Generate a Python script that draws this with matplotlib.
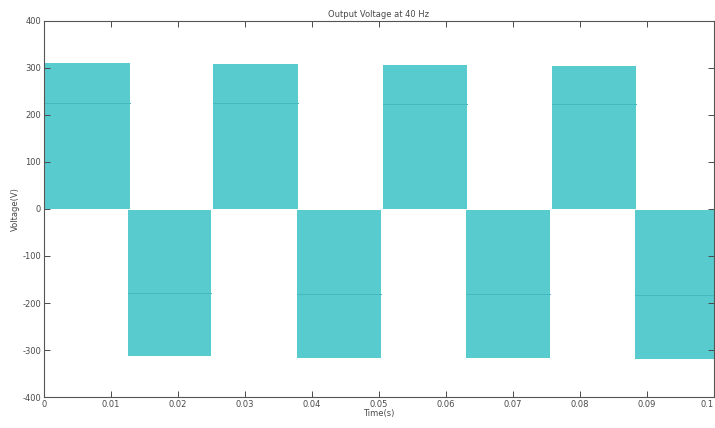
import matplotlib.pyplot as plt
import numpy as np

plt.rcParams['axes.unicode_minus'] = False

# block edges (s) and levels (V)
pos_start = [0.0, 0.0252, 0.0506, 0.0758]
pos_end = [0.0128, 0.0379, 0.0631, 0.0884]
pos_top = [310, 308, 306, 304]
pos_mid = [226, 225, 224, 223]

neg_start = [0.0125, 0.0377, 0.0630, 0.0882]
neg_end = [0.0249, 0.0503, 0.0755, 0.1]
neg_bot = [-313, -316, -318, -320]
neg_mid = [-179, -180, -181, -182]

xticks = [0, 0.01, 0.02, 0.03, 0.04, 0.05, 0.06, 0.07, 0.08, 0.09, 0.1]
xlabels = ['0', '0.01', '0.02', '0.03', '0.04', '0.05', '0.06', '0.07', '0.08', '0.09', '0.1']
yticks = [-400, -300, -200, -100, 0, 100, 200, 300, 400]

fill_c = '#58cbcf'
line_c = '#45b9bd'
txt_c = '#4a4a4a'

fig = plt.figure(figsize=(7.15, 4.28), dpi=100)
ax = fig.add_axes([0.0615, 0.0724, 0.937, 0.8786])

for a, b, top, mid in zip(pos_start, pos_end, pos_top, pos_mid):
    ax.fill_between([a, b], 0, top, color=fill_c, lw=0)
    ax.plot([a, b], [mid, mid], color=line_c, lw=0.7)
for a, b, bot, mid in zip(neg_start, neg_end, neg_bot, neg_mid):
    ax.fill_between([a, b], -2, bot, color=fill_c, lw=0)
    ax.plot([a, b], [mid, mid], color=line_c, lw=0.7)

ax.set_xlim(0, 0.1)
ax.set_ylim(-400, 400)
ax.set_xticks(xticks)
ax.set_xticklabels(xlabels)
ax.set_yticks(yticks)
ax.tick_params(direction='in', top=True, right=True, length=4, width=0.7,
               labelsize=6, colors=txt_c, pad=2)
# last label sits at the figure edge, keep it inside
ax.get_xticklabels()[-1].set_ha('right')
for s in ax.spines.values():
    s.set_color('#555555')
    s.set_linewidth(0.8)

ax.set_title('Output Voltage at 40 Hz', fontsize=6, color=txt_c, pad=3)
ax.set_xlabel('Time(s)', fontsize=6, color=txt_c, labelpad=0)
ax.set_ylabel('Voltage(V)', fontsize=6, color=txt_c, labelpad=2)

fig.savefig('out.png', dpi=100)
